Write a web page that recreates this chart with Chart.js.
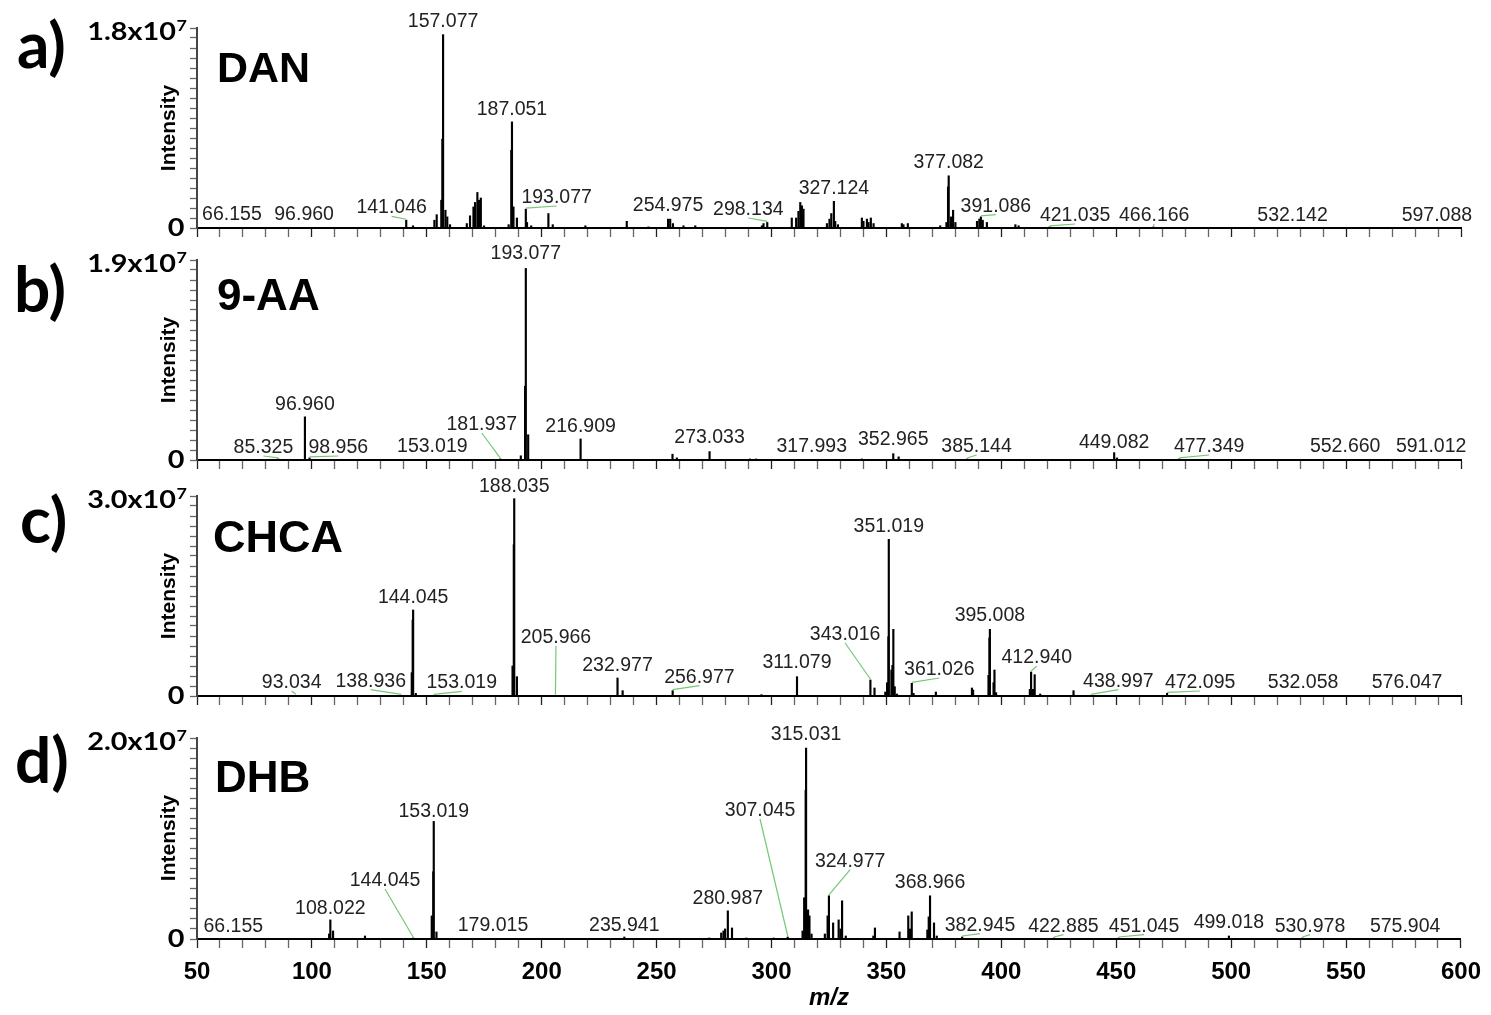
<!DOCTYPE html>
<html>
<head>
<meta charset="utf-8">
<script src="https://cdn.jsdelivr.net/npm/chart.js@4.4.1/dist/chart.umd.min.js"></script>
<style>
body { margin: 0; background: #fff; width: 1491px; height: 1015px; position: relative; overflow: hidden; }
canvas { position: absolute; left: 0; }
</style>
</head>
<body>
<canvas id="chart-a" width="1491" height="242" style="top:0px"></canvas>
<canvas id="chart-b" width="1491" height="242" style="top:232px"></canvas>
<canvas id="chart-c" width="1491" height="242" style="top:468px"></canvas>
<canvas id="chart-d" width="1491" height="305" style="top:710px"></canvas>
<script>
var X_MIN = 50, X_MAX = 600;

// intensities are in units of 10^7

// a) DAN
var danMax = 1.8;
var danMz = [66.155, 96.960, 141.046, 144.0, 153.3, 154.3, 156.3, 156.75, 157.077, 158.1, 158.9, 160.1,
    167.4, 168.8, 170.3, 171.0, 172.0, 172.7, 173.5, 174.9, 185.6, 186.75, 187.051, 187.7, 189.2,
    193.077, 193.6, 195.4, 202.9, 204.8, 219.0, 237.0, 246.4, 254.975, 255.9, 257.1, 261.7, 266.8,
    295.8, 296.5, 298.134, 308.8, 310.7, 311.7, 312.5, 313.2, 313.9, 324.1, 325.2, 326.0, 327.124,
    327.7, 328.9, 339.3, 340.0, 341.5, 342.2, 343.2, 344.4, 356.7, 357.4, 359.3, 373.4, 376.1, 376.8,
    377.082, 378.1, 379.0, 380.0, 389.4, 390.4, 391.086, 391.9, 393.7, 406.1, 407.5, 421.035, 466.166,
    532.142, 597.088];
var danInt = [0.005, 0.005, 0.07, 0.02, 0.07, 0.12, 0.25, 0.8, 1.74, 0.16, 0.1, 0.03,
    0.04, 0.11, 0.19, 0.23, 0.32, 0.25, 0.27, 0.02, 0.03, 0.7, 0.955, 0.19, 0.09,
    0.17, 0.05, 0.02, 0.13, 0.03, 0.02, 0.06, 0.01, 0.08, 0.08, 0.04, 0.02, 0.02,
    0.02, 0.04, 0.05, 0.09, 0.09, 0.15, 0.23, 0.2, 0.17, 0.04, 0.08, 0.13, 0.24,
    0.06, 0.03, 0.09, 0.06, 0.08, 0.05, 0.09, 0.04, 0.04, 0.03, 0.04, 0.02, 0.05, 0.37,
    0.47, 0.1, 0.16, 0.05, 0.06, 0.08, 0.1, 0.07, 0.05, 0.03, 0.02, 0.01, 0.01,
    0.005, 0.005];
var danLabels = [66.155, 96.960, 141.046, 157.077, 187.051, 193.077, 254.975, 298.134, 327.124,
    377.082, 391.086, 421.035, 466.166, 532.142, 597.088];

// b) 9-AA
var aaMax = 1.9;
var aaMz = [85.325, 96.960, 98.956, 153.019, 181.937, 190.9, 192.75, 193.077, 194.1, 216.909,
    256.9, 258.8, 273.033, 290.6, 293.3, 317.993, 339.3, 352.965, 355.3, 385.144, 449.082, 450.3,
    477.349, 552.660, 591.012];
var aaInt = [0.01, 0.41, 0.02, 0.005, 0.01, 0.04, 0.7, 1.82, 0.24, 0.2,
    0.055, 0.02, 0.08, 0.01, 0.01, 0.005, 0.01, 0.06, 0.03, 0.01, 0.07, 0.02,
    0.01, 0.005, 0.005];
var aaLabels = [85.325, 96.960, 98.956, 153.019, 181.937, 193.077, 216.909, 273.033, 317.993,
    352.965, 385.144, 449.082, 477.349, 552.660, 591.012];

// c) CHCA
var chcaMax = 3.0;
var chcaMz = [93.034, 138.936, 142.2, 143.45, 143.85, 144.045, 145.2, 153.019, 187.3, 187.85, 188.035,
    189.2, 205.966, 232.977, 235.2, 256.977, 295.6, 305.0, 311.079, 343.016, 344.8, 349.5, 350.28,
    350.85, 351.019, 352.15, 352.6, 353.0, 353.6, 354.6, 361.026, 361.8, 371.5, 387.2, 387.7, 394.4,
    394.8, 395.008, 396.6, 397.0, 397.7, 412.4, 412.940, 413.8, 414.5, 416.9, 431.4, 438.997, 472.095,
    532.058, 576.047];
var chcaInt = [0.01, 0.01, 0.01, 0.35, 1.14, 1.29, 0.04, 0.01, 0.45, 2.27, 2.96,
    0.29, 0.005, 0.27, 0.08, 0.08, 0.02, 0.01, 0.29, 0.24, 0.12, 0.06, 0.2,
    0.89, 2.35, 0.39, 0.46, 1.0, 0.14, 0.03, 0.19, 0.04, 0.06, 0.12, 0.09, 0.31,
    0.87, 1.0, 0.2, 0.39, 0.05, 0.1, 0.36, 0.1, 0.32, 0.03, 0.08, 0.01, 0.04,
    0.005, 0.005];
var chcaLabels = [93.034, 138.936, 144.045, 153.019, 188.035, 205.966, 232.977, 256.977, 311.079,
    343.016, 351.019, 361.026, 395.008, 412.940, 438.997, 472.095, 532.058, 576.047];

// d) DHB
var dhbMax = 2.0;
var dhbMz = [66.155, 107.5, 108.022, 109.2, 123.1, 144.045, 152.15, 152.8, 153.019, 154.2, 179.015,
    235.941, 272.9, 278.1, 279.1, 279.8, 280.987, 282.8, 289.0, 300.9, 307.045, 313.5, 314.2, 314.85,
    315.031, 315.9, 316.5, 317.4, 323.2, 324.4, 324.977, 326.8, 329.2, 330.0, 330.7, 332.3, 344.3,
    345.0, 355.7, 359.5, 360.3, 361.0, 367.8, 368.4, 368.966, 370.7, 371.9, 382.945, 422.885, 451.045,
    499.018, 530.978, 575.904];
var dhbInt = [0.005, 0.05, 0.19, 0.08, 0.03, 0.01, 0.23, 0.67, 1.17, 0.07, 0.005,
    0.02, 0.01, 0.06, 0.08, 0.1, 0.28, 0.11, 0.01, 0.01, 0.02, 0.08, 0.41, 1.48,
    1.9, 0.29, 0.23, 0.05, 0.05, 0.23, 0.43, 0.16, 0.19, 0.1, 0.38, 0.03, 0.03,
    0.11, 0.07, 0.23, 0.1, 0.27, 0.09, 0.22, 0.43, 0.16, 0.03, 0.02, 0.01, 0.01,
    0.03, 0.01, 0.005];
var dhbLabels = [66.155, 108.022, 144.045, 153.019, 179.015, 235.941, 280.987, 307.045, 315.031,
    324.977, 368.966, 382.945, 422.885, 451.045, 499.018, 530.978, 575.904];

// where each peak label sits: [m/z of label centre, baseline in 10^7, draw leader line]
var danLabelPlace = [[65.2, 0.072, false], [96.6, 0.072, false], [134.7, 0.132, true], [157.077, 1.809, false],
    [187.051, 1.017, false], [206.5, 0.225, true], [254.975, 0.153, false], [289.9, 0.117, true],
    [327.124, 0.303, false], [377.082, 0.537, false], [397.6, 0.147, true], [432.1, 0.063, true],
    [466.5, 0.063, true], [526.7, 0.063, false], [589.5, 0.063, false]];
var aaLabelPlace = [[78.9, 0.0665, true], [96.960, 0.475, false], [111.5, 0.0665, true], [152.4, 0.079, false],
    [173.9, 0.285, true], [193.077, 1.91, false], [216.909, 0.269, false], [273.033, 0.159, false],
    [317.5, 0.079, false], [352.965, 0.1425, false], [389.2, 0.076, true], [449.082, 0.114, false],
    [490.4, 0.076, true], [549.6, 0.076, false], [587.0, 0.076, false]];
var chcaLabelPlace = [[91.2, 0.12, true], [125.6, 0.14, true], [144.045, 1.395, false], [165.2, 0.1155, true],
    [188.035, 3.06, false], [206.2, 0.80, true], [232.977, 0.38, false], [268.6, 0.2, true],
    [311.079, 0.42, false], [332.0, 0.84, true], [351.019, 2.46, false], [373.0, 0.315, true],
    [395.008, 1.13, false], [415.4, 0.49, true], [450.9, 0.14, true], [486.5, 0.12, true],
    [531.3, 0.12, false], [576.5, 0.12, false]];
var dhbLabelPlace = [[65.8, 0.073, false], [108.022, 0.246, false], [131.8, 0.527, true], [153.019, 1.217, false],
    [178.8, 0.08, false], [235.941, 0.08, false], [280.987, 0.345, false], [295.0, 1.224, true],
    [315.031, 1.98, false], [334.2, 0.72, true], [368.966, 0.504, false], [390.7, 0.083, true],
    [427.0, 0.073, true], [462.1, 0.073, true], [499.018, 0.106, false], [534.3, 0.073, true],
    [575.7, 0.073, false]];

var panels = [
    { canvas: 'chart-a', top: 0, xAxisH: 14, bottom: false, letter: 'a)', letterX: 17, letterY: 68,
      name: 'DAN', nameX: 217, nameY: 82, nameSize: 43, yMax: danMax, yText: '1.8',
      mz: danMz, ints: danInt, labels: danLabels, place: danLabelPlace },
    { canvas: 'chart-b', top: 232, xAxisH: 14, bottom: false, letter: 'b)', letterX: 14, letterY: 312,
      name: '9-AA', nameX: 217, nameY: 310, nameSize: 44, yMax: aaMax, yText: '1.9',
      mz: aaMz, ints: aaInt, labels: aaLabels, place: aaLabelPlace },
    { canvas: 'chart-c', top: 468, xAxisH: 14, bottom: false, letter: 'c)', letterX: 20, letterY: 543,
      name: 'CHCA', nameX: 213, nameY: 552, nameSize: 45, yMax: chcaMax, yText: '3.0',
      mz: chcaMz, ints: chcaInt, labels: chcaLabels, place: chcaLabelPlace },
    { canvas: 'chart-d', top: 710, xAxisH: 76, bottom: true, letter: 'd)', letterX: 15, letterY: 783,
      name: 'DHB', nameX: 215, nameY: 792, nameSize: 44, yMax: dhbMax, yText: '2.0',
      mz: dhbMz, ints: dhbInt, labels: dhbLabels, place: dhbLabelPlace }
];

// y-axis end labels are wide and squat in the original, so stretch them
function drawStretched(c, text, sup, right, base) {
    c.save();
    c.translate(right, base);
    c.scale(1.2, 1);
    c.textAlign = 'right';
    c.textBaseline = 'alphabetic';
    var w = 0;
    if (sup) {
        c.font = 'bold 15px Lato';
        w = c.measureText(sup).width;
        c.fillText(sup, 0, -9);
    }
    c.font = 'bold 24px Lato';
    c.fillText(text, -w - 0.5, 0);
    c.restore();
}

function buildPanel(p) {
    var ctx = document.getElementById(p.canvas).getContext('2d');
    var points = p.mz.map(function (m, i) { return { x: m, y: p.ints[i] }; });

    var peakLabels = {
        id: 'peakLabels',
        afterDatasetsDraw: function (chart) {
            var xs = chart.scales.x, ys = chart.scales.y, c = chart.ctx;
            c.save();
            c.font = '19.5px "Liberation Sans"';
            c.textAlign = 'center';
            c.textBaseline = 'alphabetic';
            p.labels.forEach(function (m, i) {
                var pos = p.place[i];
                var lx = xs.getPixelForValue(pos[0]);
                var ly = ys.getPixelForValue(pos[1]);
                if (pos[2]) {
                    var k = p.mz.indexOf(m);
                    var px = xs.getPixelForValue(m);
                    var py = ys.getPixelForValue(p.ints[k]);
                    c.strokeStyle = '#74c874';
                    c.lineWidth = 1.2;
                    c.beginPath();
                    c.moveTo(lx, ly + 3);
                    c.lineTo(px, py - 1);
                    c.stroke();
                }
                c.fillStyle = '#222';
                c.fillText(m.toFixed(3), lx, ly);
            });
            c.restore();
        }
    };

    var panelText = {
        id: 'panelText',
        afterDraw: function (chart) {
            var c = chart.ctx;
            var areaTop = chart.chartArea.top, areaBottom = chart.chartArea.bottom;
            c.save();
            c.fillStyle = '#000';
            c.textAlign = 'left';
            c.textBaseline = 'alphabetic';
            c.font = 'bold 64px Lato';
            c.fillText(p.letter, p.letterX, p.letterY - p.top);
            c.font = 'bold ' + p.nameSize + 'px "Liberation Sans"';
            c.fillText(p.name, p.nameX, p.nameY - p.top);

            c.save();
            c.translate(169, areaTop + 100);
            c.rotate(-Math.PI / 2);
            c.textAlign = 'center';
            c.textBaseline = 'middle';
            c.font = 'bold 21px "Liberation Sans"';
            c.fillText('Intensity', 0, 0);
            c.restore();

            drawStretched(c, p.yText + 'x10', '7', 187, areaTop + 12);
            drawStretched(c, '0', null, 185, areaBottom + 8);
            c.restore();
        }
    };

    return new Chart(ctx, {
        type: 'bar',
        data: {
            datasets: [{
                data: points,
                backgroundColor: '#000',
                borderWidth: 0,
                barThickness: 1.5
            }]
        },
        options: {
            responsive: false,
            animation: false,
            events: [],
            layout: { padding: { top: 28, right: 30, left: 0, bottom: 0 } },
            plugins: { legend: { display: false }, tooltip: { enabled: false } },
            scales: {
                x: {
                    type: 'linear',
                    min: X_MIN,
                    max: X_MAX,
                    offset: false,
                    grid: {
                        offset: false,
                        drawOnChartArea: false,
                        tickLength: 9,
                        tickWidth: 1.3,
                        tickColor: function (c) { return c.tick && c.tick.value % 50 === 0 ? '#222' : '#666'; }
                    },
                    border: { color: '#000', width: 2 },
                    ticks: {
                        display: p.bottom,
                        stepSize: 10,
                        autoSkip: false,
                        maxRotation: 0,
                        padding: 10,
                        color: '#000',
                        font: { family: 'Liberation Sans', size: 24, weight: 'bold' },
                        callback: function (v) { return v % 50 === 0 ? String(v) : ''; }
                    },
                    title: {
                        display: p.bottom,
                        text: 'm/z',
                        color: '#000',
                        padding: { top: 0, bottom: 2 },
                        font: { family: 'Liberation Sans', size: 24, weight: 'bold', style: 'italic' }
                    },
                    afterFit: function (s) { s.height = p.xAxisH; }
                },
                y: {
                    min: 0,
                    max: p.yMax,
                    grid: { drawOnChartArea: false, tickLength: 7, tickWidth: 1.3, tickColor: '#666' },
                    border: { color: '#444', width: 2 },
                    ticks: { display: false },
                    afterBuildTicks: function (s) {
                        var t = [];
                        for (var i = 0; i <= 20; i++) t.push({ value: p.yMax * i / 20 });
                        s.ticks = t;
                    },
                    afterFit: function (s) { s.width = 197; }
                }
            }
        },
        plugins: [peakLabels, panelText]
    });
}

panels.forEach(buildPanel);
</script>
</body>
</html>
